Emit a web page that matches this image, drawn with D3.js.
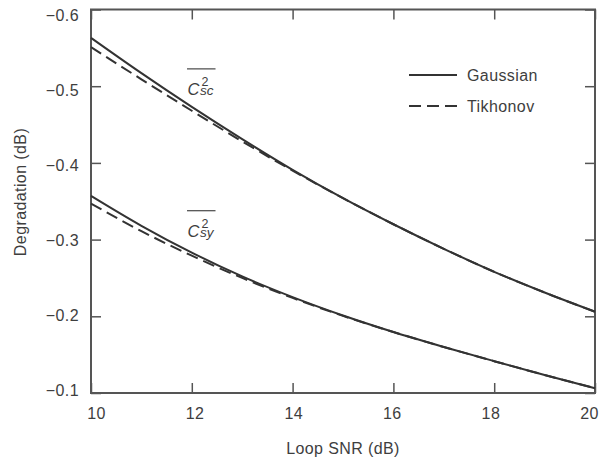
<!DOCTYPE html>
<html>
<head>
<meta charset="utf-8">
<script src="https://cdn.jsdelivr.net/npm/d3@7"></script>
<style>
  html, body { margin: 0; padding: 0; background: #fff; }
  svg text { font-family: "Liberation Sans", Arial, sans-serif; fill: #3e3e3e; }
</style>
</head>
<body>
<svg id="chart" width="602" height="464"></svg>
<script>
// Loop SNR (dB) sample points
const snr = [10, 11, 12, 13, 14, 15, 16, 17, 18, 19, 20];

// Degradation (dB) for the squaring-loss terms
const cscGaussian = [-0.563, -0.517, -0.473, -0.431, -0.391, -0.354, -0.320, -0.288, -0.258, -0.231, -0.206];
const cscTikhonov = [-0.551, -0.509, -0.468, -0.428, -0.390, -0.354, -0.320, -0.288, -0.258, -0.231, -0.206];
const csyGaussian = [-0.357, -0.318, -0.283, -0.252, -0.225, -0.201, -0.1795, -0.160, -0.1415, -0.1235, -0.1063];
const csyTikhonov = [-0.347, -0.311, -0.279, -0.250, -0.224, -0.2005, -0.1795, -0.160, -0.1415, -0.1235, -0.1063];

// Axis ticks
const xTicks = [10, 12, 14, 16, 18, 20];
const yTicks = [-0.6, -0.5, -0.4, -0.3, -0.2, -0.1];

// Legend entries
const legendNames = ["Gaussian", "Tikhonov"];

// Curve labels (subscript, anchor SNR, anchor degradation)
const curveLabels = [
  { sub: "sc", x: 11.915, y: -0.4887 },
  { sub: "sy", x: 11.915, y: -0.3038 }
];

const W = 602, H = 464;
const margin = { top: 9.5, right: 7, bottom: 71, left: 91 };
const iw = W - margin.left - margin.right;
const ih = H - margin.top - margin.bottom;

const svg = d3.select("#chart");
const g = svg.append("g").attr("transform", `translate(${margin.left},${margin.top})`);

const x = d3.scaleLinear().domain([10, 20]).range([0, iw]);
const y = d3.scaleLinear().domain([-0.6, -0.1]).range([0, ih]);

const axisColor = "#555";
const lineColor = "#333";
const tickLen = 10;
const fontSize = "16px";
const spacing = "0.4px";

function styleAxis(sel) {
  sel.select(".domain").remove();
  sel.selectAll(".tick line").attr("stroke", axisColor).attr("stroke-width", 1.5);
  sel.selectAll(".tick text")
    .attr("fill", "#3e3e3e")
    .style("font-size", fontSize)
    .style("letter-spacing", spacing);
}

// Bottom axis: end labels sit slightly inside the frame
g.append("g").attr("transform", `translate(0,${ih})`)
  .call(d3.axisBottom(x).tickValues(xTicks).tickSize(-tickLen).tickPadding(15).tickFormat(d3.format("d")))
  .call(styleAxis)
  .call(s => s.selectAll(".tick text").attr("dx", (d, i, n) => 5 - 11 * i / (n.length - 1)));
g.append("g")
  .call(d3.axisTop(x).tickValues(xTicks).tickSize(-tickLen).tickFormat(""))
  .call(styleAxis);
// Left axis: end labels sit slightly inside the frame
g.append("g")
  .call(d3.axisLeft(y).tickValues(yTicks).tickSize(-tickLen).tickPadding(12).tickFormat(d3.format(".1f")))
  .call(styleAxis)
  .call(s => s.selectAll(".tick text").attr("transform", (d, i, n) => `translate(0,${6 - 9 * i / (n.length - 1)})`));
g.append("g").attr("transform", `translate(${iw},0)`)
  .call(d3.axisRight(y).tickValues(yTicks).tickSize(-tickLen).tickFormat(""))
  .call(styleAxis);

// Plot frame
g.append("rect")
  .attr("width", iw).attr("height", ih)
  .attr("fill", "none").attr("stroke", axisColor).attr("stroke-width", 2);

// Curves
const line = d3.line()
  .x((d, i) => x(snr[i]))
  .y(d => y(d))
  .curve(d3.curveMonotoneX);

const series = [
  { values: cscGaussian, dash: null },
  { values: cscTikhonov, dash: "12,6" },
  { values: csyGaussian, dash: null },
  { values: csyTikhonov, dash: "12,6" }
];

g.selectAll("path.curve").data(series).enter().append("path")
  .attr("class", "curve")
  .attr("d", d => line(d.values))
  .attr("fill", "none")
  .attr("stroke", lineColor)
  .attr("stroke-width", 2)
  .attr("stroke-dasharray", d => d.dash);

// Curve labels: overlined C with stacked superscript 2 and subscript
curveLabels.forEach(lb => {
  const lx = x(lb.x), ly = y(lb.y);
  const t = g.append("g").attr("transform", `translate(${lx},${ly})`);
  t.append("line")
    .attr("x1", -0.5).attr("x2", 28).attr("y1", -26).attr("y2", -26)
    .attr("stroke", "#555").attr("stroke-width", 1.3);
  const txt = t.append("text").attr("x", 0).attr("y", 0);
  txt.append("tspan").style("font-size", "16.5px").style("font-style", "italic").text("C");
  txt.append("tspan").attr("dx", 2).attr("dy", -8.5).style("font-size", "12.5px").text("2");
  txt.append("tspan").attr("dx", -8.5).attr("dy", 8.5)
    .style("font-size", "13.5px").style("font-style", "italic").text(lb.sub);
});

// Legend
const legend = g.append("g").attr("transform", `translate(${409 - margin.left},${75 - margin.top})`);
legendNames.forEach((name, i) => {
  const row = legend.append("g").attr("transform", `translate(0,${i * 31})`);
  row.append("line")
    .attr("x1", 0).attr("x2", 48).attr("y1", 0).attr("y2", 0)
    .attr("stroke", lineColor).attr("stroke-width", 2)
    .attr("stroke-dasharray", i === 1 ? "12,6" : null);
  row.append("text").attr("x", 58).attr("y", 0).attr("dy", "0.36em")
    .style("font-size", fontSize).style("letter-spacing", spacing).text(name);
});

// Axis titles
svg.append("text")
  .attr("x", margin.left + iw / 2).attr("y", 454)
  .attr("text-anchor", "middle")
  .style("font-size", fontSize).style("letter-spacing", spacing)
  .text("Loop SNR (dB)");
svg.append("text")
  .attr("transform", "translate(26,192) rotate(-90)")
  .attr("text-anchor", "middle")
  .style("font-size", fontSize).style("letter-spacing", spacing)
  .text("Degradation (dB)");
</script>
</body>
</html>
